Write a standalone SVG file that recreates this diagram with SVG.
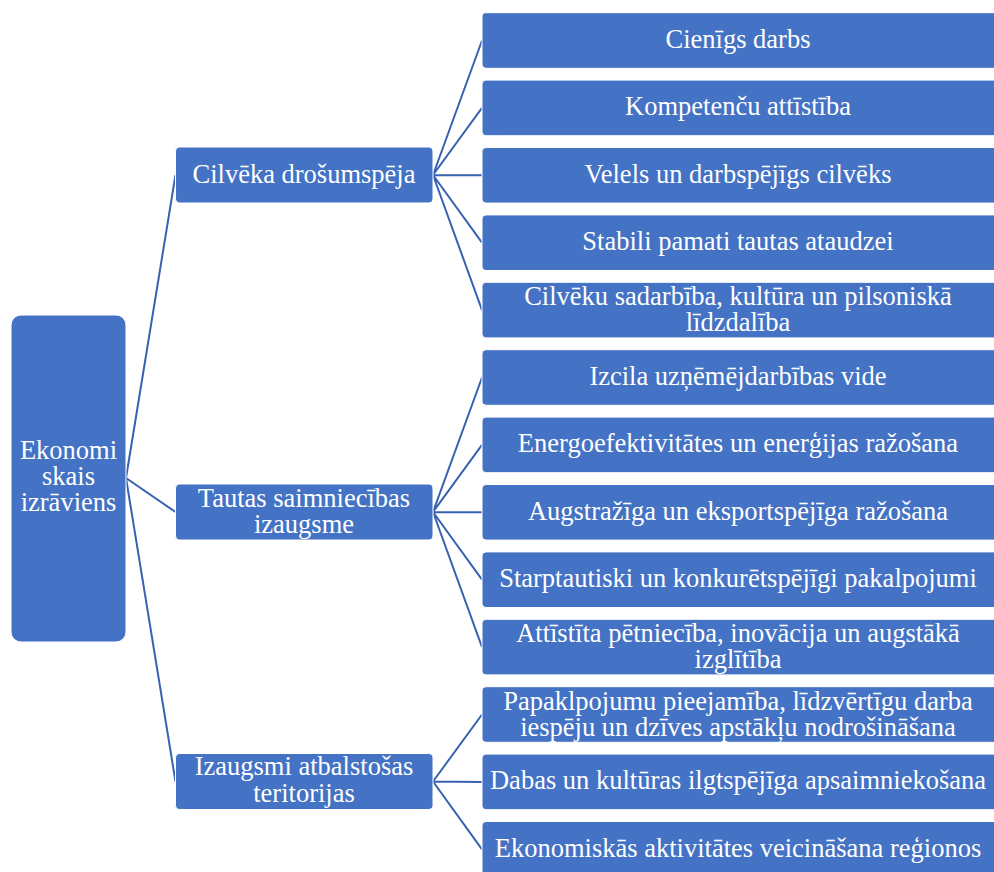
<svg xmlns="http://www.w3.org/2000/svg" width="994" height="872" viewBox="0 0 994 872">
<style>
.box{fill:#4472C4;stroke:#ffffff;stroke-width:1}
text{font-family:'Liberation Serif',serif;font-size:26.5px;fill:#ffffff;text-anchor:middle}
.c{stroke:#3862B0;stroke-width:2;fill:none}
</style>
<rect width="994" height="872" fill="#ffffff"/>
<g id="connectors">
<path class="c" d="M126 478 L175.5 175 M126 478 L175.5 512 M126 478 L175.5 781.5"/>
<path class="c" d="M433 175 L482 40.5 M433 175 L482 107.9 M433 175 L482 175.3 M433 175 L482 242.7 M433 175 L482 310.1"/>
<path class="c" d="M433 512 L482 377.5 M433 512 L482 444.9 M433 512 L482 512.3 M433 512 L482 579.7 M433 512 L482 647.1"/>
<path class="c" d="M433 781.5 L482 714.5 M433 781.5 L482 781.9 M433 781.5 L482 849.3"/>
</g>
<g font-family="Liberation Serif, serif">
<g id="root"><rect class="box" x="11" y="315" width="115" height="327" rx="10"/>
<text x="68.5" y="459">Ekonomi</text><text x="68.5" y="485">skais</text><text x="68.5" y="511">izrāviens</text></g>
<g id="m1"><rect class="box" x="175.5" y="147" width="257.5" height="56" rx="4"/><text x="304" y="182.7">Cilvēka drošumspēja</text></g>
<g id="m2"><rect class="box" x="175.5" y="484" width="257.5" height="56" rx="4"/><text x="304" y="506.5">Tautas saimniecības</text><text x="304" y="532.7">izaugsme</text></g>
<g id="m3"><rect class="box" x="175.5" y="753.5" width="257.5" height="56" rx="4"/><text x="304" y="775">Izaugsmi atbalstošas</text><text x="304" y="801.5">teritorijas</text></g>
<g id="r1"><rect class="box" x="482" y="12.7" width="520" height="55.6" rx="4"/><text x="738" y="47.7">Cienīgs darbs</text></g>
<g id="r2"><rect class="box" x="482" y="80.1" width="520" height="55.6" rx="4"/><text x="738" y="115.1">Kompetenču attīstība</text></g>
<g id="r3"><rect class="box" x="482" y="147.5" width="520" height="55.6" rx="4"/><text x="738" y="182.5">Velels un darbspējīgs cilvēks</text></g>
<g id="r4"><rect class="box" x="482" y="214.9" width="520" height="55.6" rx="4"/><text x="738" y="249.9">Stabili pamati tautas ataudzei</text></g>
<g id="r5"><rect class="box" x="482" y="282.3" width="520" height="55.6" rx="4"/><text x="738" y="304.8">Cilvēku sadarbība, kultūra un pilsoniskā</text><text x="738" y="330.8">līdzdalība</text></g>
<g id="r6"><rect class="box" x="482" y="349.7" width="520" height="55.6" rx="4"/><text x="738" y="384.7">Izcila uzņēmējdarbības vide</text></g>
<g id="r7"><rect class="box" x="482" y="417.1" width="520" height="55.6" rx="4"/><text x="738" y="452.1">Energoefektivitātes un enerģijas ražošana</text></g>
<g id="r8"><rect class="box" x="482" y="484.5" width="520" height="55.6" rx="4"/><text x="738" y="519.5">Augstražīga un eksportspējīga ražošana</text></g>
<g id="r9"><rect class="box" x="482" y="551.9" width="520" height="55.6" rx="4"/><text x="738" y="586.9">Starptautiski un konkurētspējīgi pakalpojumi</text></g>
<g id="r10"><rect class="box" x="482" y="619.3" width="520" height="55.6" rx="4"/><text x="738" y="641.5">Attīstīta pētniecība, inovācija un augstākā</text><text x="738" y="667.5">izglītība</text></g>
<g id="r11"><rect class="box" x="482" y="686.7" width="520" height="55.6" rx="4"/><text x="738" y="709.7">Papaklpojumu pieejamība, līdzvērtīgu darba</text><text x="738" y="735.7">iespēju un dzīves apstākļu nodrošināšana</text></g>
<g id="r12"><rect class="box" x="482" y="754.1" width="520" height="55.6" rx="4"/><text x="738" y="789.1">Dabas un kultūras ilgtspējīga apsaimniekošana</text></g>
<g id="r13"><rect class="box" x="482" y="821.5" width="520" height="55.6" rx="4"/><text x="738" y="856.5">Ekonomiskās aktivitātes veicināšana reģionos</text></g>
</g>
</svg>
